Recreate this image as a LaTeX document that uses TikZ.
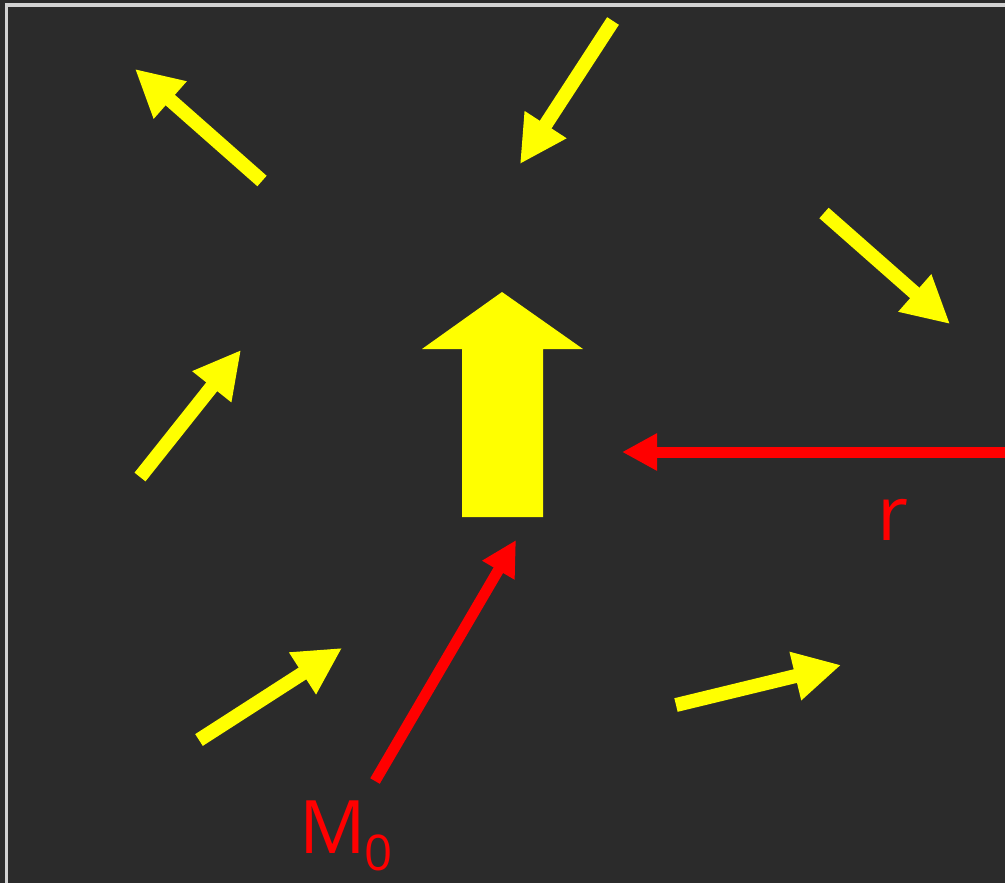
\documentclass[tikz,border=0pt]{standalone}
\usepackage{fontspec}
\setmainfont{Open Sans}
\usetikzlibrary{arrows.meta}
\definecolor{bgdark}{HTML}{2B2B2B}
\definecolor{frame}{HTML}{D2D2D2}
\definecolor{spin}{HTML}{FFFF00}
\definecolor{vecred}{HTML}{FF0000}
\newcommand{\lbfont}{\fontsize{43}{43}\selectfont}

\begin{document}
\begin{tikzpicture}[x=0.2mm, y=-0.2mm,
  spinarr/.style={draw=spin, line width=2.8mm, -{Triangle[length=9.4mm, width=9.4mm]}},
  redarr/.style={draw=vecred, line width=2.2mm, -{Triangle[length=7mm, width=7mm]}},
  lbl/.style={font=\lbfont, text=vecred, inner sep=0pt, anchor=base west}]

% ================================================================== background and frame
\useasboundingbox (0,0) rectangle (1005,883);
\fill[bgdark] (0,0) rectangle (1005,883);
\draw[frame, line width=0.7mm] (6.3,883) -- (6.3,5) -- (1005,5);

% ================================================================== small moments around
% tail and tip of each surrounding moment
\coordinate (t1) at (262,181);  \coordinate (h1) at (135,69);
\coordinate (t2) at (613,21);   \coordinate (h2) at (520,164);
\coordinate (t3) at (824,213);  \coordinate (h3) at (950,324);
\coordinate (t4) at (140,477);  \coordinate (h4) at (241,350);
\coordinate (t5) at (199,740);  \coordinate (h5) at (342,648);
\coordinate (t6) at (676,705);  \coordinate (h6) at (841,665);
\foreach \i in {1,...,6}{ \draw[spinarr] (t\i) -- (h\i); }

% ================================================================== central moment
\fill[spin] (462,517) -- (462,349) -- (422,349) -- (502,292) -- (583,349)
            -- (543,349) -- (543,517) -- cycle;

% ================================================================== distance r and moment M0
\coordinate (redge) at (1005,452);
\coordinate (rtip) at (622,452);
\draw[redarr] (redge) -- (rtip);
\node[lbl] (rlab) at (877,540) {r};

\coordinate (mtail) at (375,781);
\coordinate (mtip) at (516,540);
\draw[redarr] (mtail) -- (mtip);
\node[lbl, font=\fontsize{42}{42}\selectfont] (mlab) at (299,853)
     {M\kern-1pt\raisebox{-10pt}{\fontsize{28}{28}\selectfont 0}};
\end{tikzpicture}
\end{document}
